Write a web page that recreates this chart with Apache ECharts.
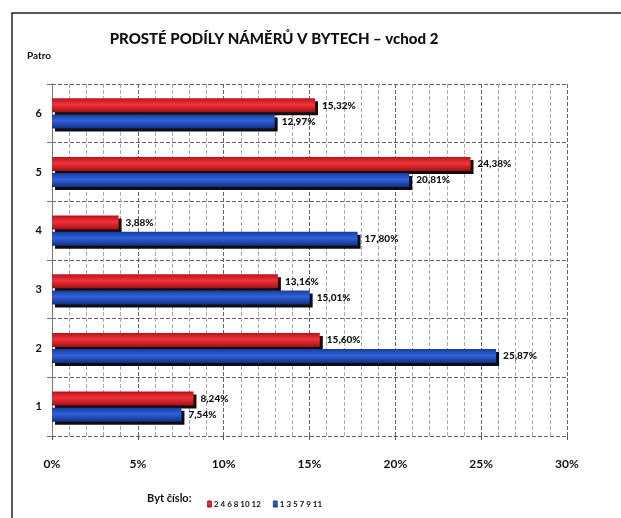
<!DOCTYPE html>
<html><head><meta charset="utf-8">
<script src="https://cdn.jsdelivr.net/npm/echarts@6/dist/echarts.min.js"></script>
<style>html,body{margin:0;padding:0;background:#fff}#c{width:621px;height:518px}</style>
</head><body><div id="c"></div>
<script>
const categories = ['1','2','3','4','5','6'];
const evenFlats = [8.24, 15.60, 13.16, 3.88, 24.38, 15.32];   // byty 2 4 6 8 10 12
const oddFlats  = [7.54, 25.87, 15.01, 17.80, 20.81, 12.97];  // byty 1 3 5 7 9 11
const xTicks = [0, 5, 10, 15, 20, 25, 30];
const seriesNames = ['2 4 6 8 10 12', '1 3 5 7 9 11'];

const FONT = 'Lato';
function grad(c1, c2, c3){
  return new echarts.graphic.LinearGradient(0,0,0,1,[
    {offset:0,color:c1},{offset:0.45,color:c2},{offset:1,color:c3}]);
}
function fmt(v){ return v.toFixed(2).replace('.', ',') + '%'; }

const chart = echarts.init(document.getElementById('c'), null, {renderer:'canvas'});
chart.setOption({
  animation:false,
  backgroundColor:'#ffffff',
  textStyle:{fontFamily:FONT},
  title:{
    text:'PROSTÉ PODÍLY NÁMĚRŮ V BYTECH – vchod 2',
    left:269, top:27, textAlign:'center',
    textStyle:{fontFamily:FONT,fontSize:15,fontWeight:900,color:'#111'}
  },
  legend:{
    data:[seriesNames[0], seriesNames[1]],
    left:202, top:495, itemWidth:5, itemHeight:7, itemGap:12,
    textStyle:{fontFamily:FONT,fontSize:8,fontWeight:'bold',color:'#111',padding:[0,0,0,-3]}
  },
  graphic:[
    {type:'rect', shape:{x:12,y:13,width:700,height:600}, style:{fill:'none',stroke:'#222',lineWidth:1.5}},
    {type:'text', left:27, top:51, style:{text:'Patro', font:'bold 10px '+FONT, fill:'#111'}},
    {type:'text', left:147, top:493, style:{text:'Byt číslo:', font:'bold 11px '+FONT, fill:'#111'}}
  ],
  grid:{left:52, right:54, top:84, bottom:82},
  xAxis:{
    type:'value', min:0, max:30, interval:5,
    axisLine:{show:false}, axisTick:{show:true,length:4,lineStyle:{color:'#555'}},
    axisLabel:{formatter: v => xTicks.includes(v) ? v + '%' : '', margin:22, fontFamily:FONT,fontSize:12,fontWeight:'bold',color:'#111'},
    splitLine:{show:true,lineStyle:{color:'#666',type:'dashed',width:1}},
    minorTick:{show:false, splitNumber:5},
    minorSplitLine:{show:true,lineStyle:{color:'#aaa',type:'dashed',width:1}}
  },
  yAxis:{
    type:'category', data:categories,
    axisLine:{show:true,lineStyle:{color:'#777'}},
    axisTick:{show:true,alignWithLabel:false,lineStyle:{color:'#777'}},
    axisLabel:{margin:10,fontFamily:FONT,fontSize:11,fontWeight:'bold',color:'#111'},
    splitLine:{show:true,lineStyle:{color:'#666',type:'dashed'}}
  },
  series:[
    {
      name:seriesNames[0], type:'bar', data:evenFlats, barWidth:14, barGap:'15%',
      itemStyle:{color:grad('#b5141a','#f2333a','#a30f14'), shadowColor:'rgba(0,0,0,0.95)', shadowOffsetX:3, shadowOffsetY:3, shadowBlur:0},
      label:{show:true,position:'right',distance:7,formatter:p=>fmt(p.value),fontFamily:FONT,fontSize:10,fontWeight:900,color:'#111'}
    },
    {
      name:seriesNames[1], type:'bar', data:oddFlats, barWidth:14,
      itemStyle:{color:grad('#1a3aa0','#2f63d8','#132e88'), shadowColor:'rgba(0,0,0,0.95)', shadowOffsetX:3, shadowOffsetY:3, shadowBlur:0},
      label:{show:true,position:'right',distance:7,formatter:p=>fmt(p.value),fontFamily:FONT,fontSize:10,fontWeight:900,color:'#111'}
    }
  ]
});
</script></body></html>
